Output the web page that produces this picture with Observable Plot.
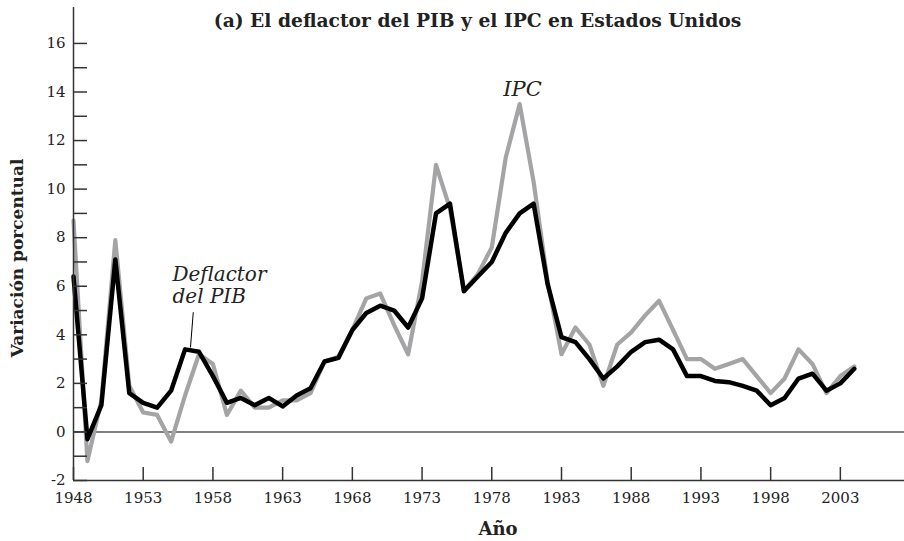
<!DOCTYPE html>
<html><head><meta charset="utf-8">
<script src="https://cdn.jsdelivr.net/npm/d3@7"></script>
<script src="https://cdn.jsdelivr.net/npm/@observablehq/plot@0.6"></script>
<style>html,body{margin:0;padding:0;background:#fff} #chart svg{display:block}</style>
</head><body><div id="chart"></div>
<script>
const years = [1948,1949,1950,1951,1952,1953,1954,1955,1956,1957,1958,1959,1960,1961,1962,1963,1964,1965,1966,1967,1968,1969,1970,1971,1972,1973,1974,1975,1976,1977,1978,1979,1980,1981,1982,1983,1984,1985,1986,1987,1988,1989,1990,1991,1992,1993,1994,1995,1996,1997,1998,1999,2000,2001,2002,2003,2004];
const ipc = [8.7,-1.2,1.3,7.9,1.9,0.8,0.7,-0.4,1.5,3.2,2.8,0.7,1.7,1.0,1.0,1.3,1.3,1.6,2.9,3.1,4.2,5.5,5.7,4.4,3.2,6.2,11.0,9.2,5.8,6.5,7.6,11.3,13.5,10.3,6.2,3.2,4.3,3.6,1.9,3.6,4.1,4.8,5.4,4.2,3.0,3.0,2.6,2.8,3.0,2.3,1.6,2.2,3.4,2.8,1.6,2.3,2.7];
const deflactor = [6.4,-0.3,1.1,7.1,1.6,1.2,1.0,1.7,3.4,3.3,2.3,1.2,1.4,1.1,1.4,1.05,1.5,1.8,2.9,3.05,4.2,4.9,5.2,5.0,4.3,5.5,9.0,9.4,5.8,6.4,7.0,8.2,9.0,9.4,6.1,3.9,3.7,3.0,2.2,2.7,3.3,3.7,3.8,3.4,2.3,2.3,2.1,2.05,1.9,1.7,1.1,1.4,2.2,2.4,1.7,2.0,2.6];
const yTicks = [-2,-1,0,1,2,3,4,5,6,7,8,9,10,11,12,13,14,15,16];
const yTickLabels = [-2,0,2,4,6,8,10,12,14,16];
const xTickLabels = [1948,1953,1958,1963,1968,1973,1978,1983,1988,1993,1998,2003];
const title = "(a) El deflactor del PIB y el IPC en Estados Unidos";
const xLabel = "Año";
const yLabel = "Variación porcentual";

const data = years.map((y, i) => ({year: y, ipc: ipc[i], deflactor: deflactor[i]}));

const W = 904, H = 541;
const mTop = 7, mBottom = 61, mLeft = 73, mRight = 0;
const frameW = W - mLeft - mRight, frameH = H - mTop - mBottom;
const serif = "DejaVu Serif";
const axisColor = "#333";

const chart = Plot.plot({
  width: W, height: H,
  marginTop: mTop, marginBottom: mBottom, marginLeft: mLeft, marginRight: mRight,
  style: {fontFamily: serif, background: "#fff", color: "#222"},
  x: {domain: [1948, 2007.6]},
  y: {domain: [-2, 17.48]},
  marks: [
    Plot.ruleY([0], {stroke: "#555", strokeWidth: 1.5}),
    Plot.line(data, {x: "year", y: "ipc", stroke: "#a4a4a7", strokeWidth: 4.2}),
    Plot.line(data, {x: "year", y: "deflactor", stroke: "#000", strokeWidth: 4.5}),
    Plot.ruleX([1948], {stroke: axisColor, strokeWidth: 1.5}),
    Plot.ruleY([-2], {stroke: axisColor, strokeWidth: 1.5}),
    Plot.tickY(yTicks, {y: d => d, insetRight: frameW - 14, stroke: axisColor, strokeWidth: 1.5}),
    Plot.tickX(xTickLabels, {x: d => d, insetTop: frameH - 13, stroke: axisColor, strokeWidth: 1.5}),
    Plot.axisY(yTickLabels, {anchor: "left", tickSize: 0, tickPadding: 8, fontSize: 15, label: null,
      tickFormat: d => (d < 0 ? "-" + Math.abs(d) : String(d)), fill: "#222"}),
    Plot.axisX(xTickLabels, {anchor: "bottom", tickSize: 0, tickPadding: 12, fontSize: 15, label: null,
      tickFormat: d => String(d), fill: "#222"}),
    Plot.text([title], {frameAnchor: "top", dx: 477 - (mLeft + frameW / 2), dy: 6.5, lineAnchor: "top",
      fontSize: 18.7, fontWeight: "bold", fill: "#222"}),
    Plot.text([xLabel], {frameAnchor: "bottom", dx: 497.5 - (mLeft + frameW / 2), dy: 54,
      fontSize: 18, fontWeight: "bold", fill: "#222"}),
    Plot.text([yLabel], {frameAnchor: "left", textAnchor: "middle", rotate: -90, dx: 17.5 - mLeft, dy: 14,
      fontSize: 17, fontWeight: "bold", fill: "#222"}),
    Plot.text([{x: 1980.2, y: 14.1, t: "IPC"}], {x: "x", y: "y", text: "t",
      fontSize: 21, fontStyle: "italic", fill: "#222"}),
    Plot.text([{x: 1955.1, y: 6.87, t: "Deflactor\ndel PIB"}], {x: "x", y: "y", text: "t",
      textAnchor: "start", lineAnchor: "top", lineHeight: 1.1, fontSize: 20, fontStyle: "italic", fill: "#222"}),
    Plot.link([{x1: 1956.59, y1: 4.93, x2: 1956.39, y2: 3.48}], {x1: "x1", y1: "y1", x2: "x2", y2: "y2",
      stroke: "#000", strokeWidth: 1})
  ]
});
document.getElementById("chart").appendChild(chart);
</script>
</body></html>
